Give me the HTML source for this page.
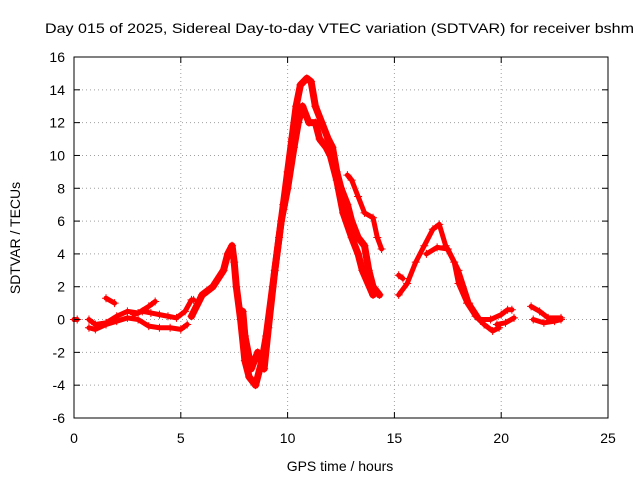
<!DOCTYPE html>
<html><head><meta charset="utf-8"><style>
body{margin:0;background:#fff}
svg{display:block;font-family:"Liberation Sans",sans-serif}
</style></head><body>
<svg id="c" width="640" height="480">
<text x="45" y="33" font-size="14" textLength="589" lengthAdjust="spacingAndGlyphs">Day 015 of 2025, Sidereal Day-to-day VTEC variation (SDTVAR) for receiver bshm</text>
<text x="340" y="471" font-size="14" text-anchor="middle">GPS time / hours</text>
<text transform="translate(20,238) rotate(-90)" font-size="14" text-anchor="middle">SDTVAR / TECUs</text>
<g id="grid"></g><g id="data"></g><g id="axes"></g>
</svg>
<script>
const xTicks=[0,5,10,15,20,25];
const yTicks=[-6,-4,-2,0,2,4,6,8,10,12,14,16];
const tracksT=[
[0,0.15],
[0.7,1,1.5,2,2.5,3,3.5,4,4.5,5,5.3],
[0.7,1,1.5,2,2.5,3,3.5,3.8],
[1.5,1.9],
[2.8,3.2,3.6,4,4.4,4.8,5.2,5.5,5.6],
[5.5,6,6.5,7,7.2,7.4,7.5,7.6,7.8,8,8.2,8.5,8.8,9,9.3,9.6,9.8,10,10.2,10.4,10.6,10.9,11.1,11.3,11.6,11.9,12.1,12.3,12.5,12.8,13,13.3,13.6,13.8,14,14.3],
[7.9,8,8.3,8.6,8.9,9.1,9.4,9.7,10,10.3,10.5,10.7,11,11.3,11.5,11.8,12,12.3,12.6,13,13.3,13.5,14],
[12.8,13,13.3,13.6,14,14.2,14.4],
[15.2,15.4],
[15.2,15.6,16,16.4,16.8,17.1,17.4,17.8,18,18.4,18.8,19.2,19.6,19.9],
[16.5,17,17.5,18,18.5,19,19.5,20,20.3,20.5],
[19.8,20.2,20.6],
[21.4,21.8,22.2,22.8],
[21.5,22,22.5,22.8]
];
const tracksV=[
[0,0],
[-0.5,-0.6,-0.3,-0.1,0.1,0,-0.4,-0.5,-0.5,-0.6,-0.3],
[0,-0.3,-0.2,0.2,0.5,0.4,0.8,1.1],
[1.3,1.0],
[0.3,0.5,0.4,0.3,0.2,0.1,0.5,1.2,1.2],
[0.2,1.5,2.0,3.0,4.0,4.5,3.5,2,0,-2.5,-3.5,-4,-2.5,-1,2,5,7,9,11,13,14.3,14.7,14.5,13,12,11,10.5,9,8,7,6,5,4.5,3,2,1.5],
[0.5,-1,-3,-2,-3,-0.5,3,6,8,10.5,12,13,12,12,11,10.5,10,8.5,6.5,5,4,3,1.5],
[8.8,8.5,7.5,6.5,6.2,5,4.3],
[2.7,2.5],
[1.5,2.2,3.5,4.5,5.5,5.8,4.5,3.5,2.2,1,0.2,-0.3,-0.7,-0.5],
[4.0,4.4,4.3,3,1,0,0,0.3,0.6,0.6],
[-0.3,-0.2,0.1],
[0.8,0.5,0.1,0.1],
[0,-0.2,-0.1,0]
];
const L=74,R=608,T=57,B=418;
function X(v){return L+(v-0)/(25-0)*(R-L);}
function Y(v){return B-(v+6)/(22)*(B-T);}
const NS="http://www.w3.org/2000/svg";
function mk(t,a,p){const e=document.createElementNS(NS,t);for(const k in a)e.setAttribute(k,a[k]);p.appendChild(e);return e;}
const grid=document.getElementById('grid'),axes=document.getElementById('axes'),data=document.getElementById('data');
xTicks.forEach(v=>{
 if(v>0&&v<25){const g=mk('line',{x1:X(v),x2:X(v),y1:T,y2:B,stroke:'#a0a0a0','stroke-dasharray':'1,3'},grid);
 
 }
 mk('line',{x1:X(v),x2:X(v),y1:B,y2:B-6,stroke:'#000'},axes);
 mk('line',{x1:X(v),x2:X(v),y1:T,y2:T+6,stroke:'#000'},axes);
 const t=mk('text',{x:X(v),y:B+25,'font-size':14,'text-anchor':'middle'},axes);t.textContent=v;
 
 
});
yTicks.forEach(v=>{
 if(v>-6&&v<16){const g=mk('line',{x1:L,x2:R,y1:Y(v),y2:Y(v),stroke:'#a0a0a0','stroke-dasharray':'1,3'},grid);
 
 }
 mk('line',{x1:L,x2:L+6,y1:Y(v),y2:Y(v),stroke:'#000'},axes);
 mk('line',{x1:R,x2:R-6,y1:Y(v),y2:Y(v),stroke:'#000'},axes);
 const t=mk('text',{x:L-9,y:Y(v)+5,'font-size':14,'text-anchor':'end'},axes);t.textContent=v;
 
 
});
const fr=mk('rect',{x:L,y:T,width:R-L,height:B-T,fill:'none',stroke:'#000'},axes);


tracksT.forEach((ts,i)=>{
 const vs=tracksV[i];
 const pts=ts.map((t,j)=>X(t)+','+Y(vs[j])).join(' ');
 const pl=mk('polyline',{points:pts,fill:'none',stroke:'#f00','stroke-width':(i==5||i==6)?7:5,'stroke-linejoin':'round','stroke-linecap':'round'},data);
 
 
 ts.forEach((t,j)=>{
  const x=X(t),y=Y(vs[j]);
  const p=mk('path',{d:`M${x-4},${y}H${x+4}M${x},${y-4}V${y+4}`,stroke:'#f00','stroke-width':1},data);
  
  
 });
});
</script>
</body></html>
